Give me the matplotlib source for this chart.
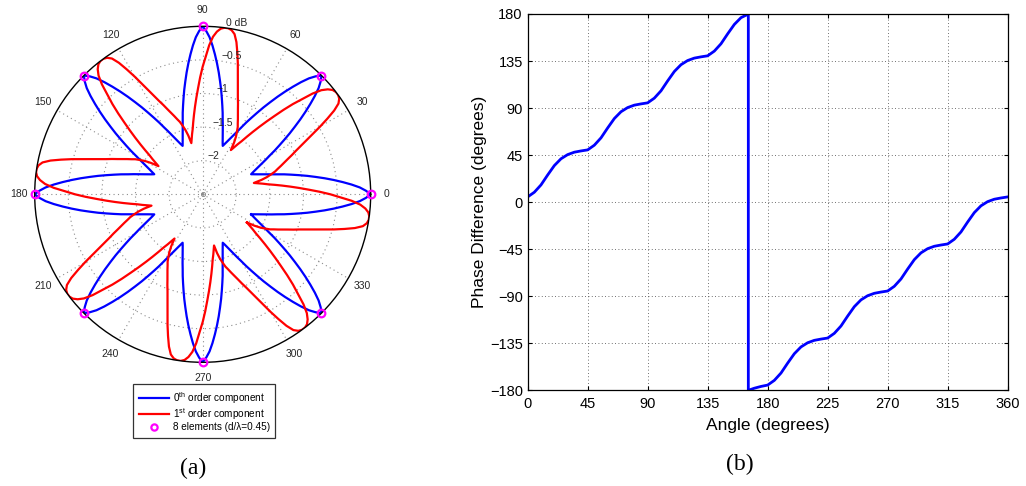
import numpy as np
import matplotlib
matplotlib.use('Agg')
import matplotlib.pyplot as plt
from matplotlib.lines import Line2D

plt.rcParams['font.family'] = ['Liberation Sans', 'DejaVu Sans']
plt.rcParams['mathtext.fontset'] = 'custom'
plt.rcParams['mathtext.rm'] = 'Liberation Sans'

# ---- (a) circular array patterns, dB relative to peak ----
# ring of 8 elements; one lobe per element,
# offsets in degrees relative to that element's direction
ELEMENT_DEG = [0, 45, 90, 135, 180, 225, 270, 315]
BLUE_OFFSET = [-22.5, -21.25, -20, -18.75, -17.5, -16.25, -15, -13.75, -12.5,
               -11.25, -10, -8.75, -7.5, -6.25, -5, -3.75, -2.5, -1.25, 0,
               1.25, 2.5, 3.75, 5, 6.25, 7.5, 8.75, 10, 11.25, 12.5, 13.75,
               15, 16.25, 17.5, 18.75, 20, 21.25, 22.5]
BLUE_DB = [-1.72, -1.68, -1.63, -1.57, -1.51, -1.43, -1.35, -1.25, -1.15,
           -1.04, -0.92, -0.80, -0.67, -0.54, -0.41, -0.28, -0.16, -0.07, 0.0,
           -0.07, -0.16, -0.28, -0.41, -0.54, -0.67, -0.80, -0.92, -1.04,
           -1.15, -1.25, -1.35, -1.43, -1.51, -1.57, -1.63, -1.68, -1.72]
RED_OFFSET = [-32.5, -31.25, -30, -28.75, -27.5, -26.25, -25, -23.75, -22.5,
              -21.25, -20, -18.75, -17.5, -16.25, -15, -13.75, -12.5, -11.25,
              -10, -8.75, -7.5, -6.25, -5, -3.75, -2.5, -1.25, 0, 1.25, 2.5,
              3.75, 5, 6.25, 7.5, 8.75, 10, 11.25, 12.5]
RED_DB = [-1.72, -1.60, -1.51, -1.44, -1.37, -1.32, -1.26, -1.20, -1.13,
          -1.05, -0.97, -0.87, -0.76, -0.63, -0.48, -0.33, -0.18, -0.07,
          -0.02, 0.0, 0.0, -0.02, -0.07, -0.15, -0.28, -0.45, -0.60, -0.76,
          -0.92, -1.06, -1.19, -1.31, -1.42, -1.52, -1.59, -1.66, -1.72]
RING_DB = [-2, -1.5, -1, -0.5]
RING_LABELS = ['\u22122', '\u22121.5', '\u22121', '\u22120.5', '0 dB']
THETA_TICKS = [0, 30, 60, 90, 120, 150, 180, 210, 240, 270, 300, 330]
LEGEND_LABELS = ['0$^{\\rm th}$ order component',
                 '1$^{\\rm st}$ order component',
                 '8 elements (d/\u03bb=0.45)']

# ---- (b) phase difference between the two components ----
PHASE_ANGLE = [0, 5, 10, 15, 20, 25, 30, 35, 40, 45, 50, 55, 60, 65, 70, 75,
               80, 85, 90, 95, 100, 105, 110, 115, 120, 125, 130, 135, 140,
               145, 150, 155, 160, 165, 165.5,
               165.5, 170, 175, 180, 185, 190, 195, 200, 205, 210, 215, 220,
               225, 230, 235, 240, 245, 250, 255, 260, 265, 270, 275, 280,
               285, 290, 295, 300, 305, 310, 315, 320, 325, 330, 335, 340,
               345, 350, 355, 360]
PHASE_DEG = [5, 9.5, 16.5, 26, 35, 41.5, 45.5, 47.8, 49, 50, 54.5, 61.5, 71,
             80, 86.5, 90.5, 92.8, 94, 95, 99.5, 106.5, 116, 125, 131.5, 135.5,
             137.8, 139, 140, 144.5, 151.5, 161, 170, 176.5, 179.6, 180,
             -180, -178, -176.3, -175, -170.5, -163.5, -154, -145, -138.5,
             -134.5, -132.2, -131, -130, -125.5, -118.5, -109, -100, -93.5,
             -89.5, -87.2, -86, -85, -80.5, -73.5, -64, -55, -48.5, -44.5,
             -42.2, -41, -40, -35.5, -28.5, -19, -10, -3.5, 0.5, 2.8, 4, 5]
X_TICKS = [0, 45, 90, 135, 180, 225, 270, 315, 360]
Y_TICKS = [-180, -135, -90, -45, 0, 45, 90, 135, 180]


def ring_curve(offsets, db):
    th, r = [], []
    for e in ELEMENT_DEG:
        th += [e + o for o in offsets[:-1]]
        r += db[:-1]
    th.append(th[0] + 360)
    r.append(r[0])
    return np.radians(th), np.array(r)


fig = plt.figure(figsize=(10.26, 4.86), dpi=100)
fig.patch.set_facecolor('white')

# ---------------- (a) ----------------
ax = fig.add_axes([0.0338, 0.2545, 0.3275, 0.6914], projection='polar')
ax.set_ylim(-2.5, 0)
ax.set_yticks(RING_DB)
ax.set_yticklabels([])
ax.set_xticks(np.radians(THETA_TICKS))
ax.set_xticklabels([])
ax.grid(True, color='0.55', linestyle=(0, (1, 3)), linewidth=0.8)
ax.spines['polar'].set_color('black')
ax.spines['polar'].set_linewidth(1.0)

th, r = ring_curve(BLUE_OFFSET, BLUE_DB)
l0, = ax.plot(th, r, color='#0000ff', lw=1.6)
th, r = ring_curve(RED_OFFSET, RED_DB)
l1, = ax.plot(th, r, color='#ff0000', lw=1.6)
ax.plot(np.radians(ELEMENT_DEG), [0] * len(ELEMENT_DEG), ls='none',
        marker='o', ms=5.5, mfc='none', mec='#ff00ff', mew=1.6,
        clip_on=False, zorder=5)
ax.plot([0], [-2.5], 'o', ms=3, mfc='none', mec='0.5', mew=0.6)

for a in THETA_TICKS:
    ax.text(np.radians(a), 0.24, str(a), ha='center', va='center',
            fontsize=7.5, color='0.15')
for v, lab in zip(RING_DB + [0], RING_LABELS):
    ax.text(np.radians(82), v, lab, ha='left', va='bottom', fontsize=7.5,
            color='0.15')

leg_marker = Line2D([], [], ls='none', marker='o', ms=4.5, mfc='none',
                    mec='#ff00ff', mew=1.6)
leg = fig.legend([l0, l1, leg_marker], LEGEND_LABELS, loc='upper left',
                 bbox_to_anchor=(133.3 / 1026, 1 - 384.3 / 486),
                 fontsize=7.2, frameon=True, fancybox=False, edgecolor='black',
                 borderaxespad=0, handlelength=3.0, handletextpad=0.4,
                 labelspacing=0.05, borderpad=0.55)
leg.get_frame().set_linewidth(0.9)

fig.text(193 / 1026, 1 - 468 / 486, '(a)', ha='center', va='center',
         family='Liberation Serif', fontsize=17)

# ---------------- (b) ----------------
bx = fig.add_axes([0.5143, 0.1969, 0.4678, 0.7743])
bx.plot(PHASE_ANGLE, PHASE_DEG, color='#0000ff', lw=2.0)
bx.set_xlim(0, 360)
bx.set_ylim(-180, 180)
bx.set_xticks(X_TICKS)
bx.set_yticks(Y_TICKS)
bx.grid(True, color='0.25', linestyle=(0, (1, 3)), linewidth=0.6)
bx.tick_params(direction='in', top=True, right=True, length=3,
               labelsize=10.5, width=0.8)
bx.tick_params(axis='x', pad=5)
for s in bx.spines.values():
    s.set_linewidth(0.9)
bx.set_xlabel('Angle (degrees)', fontsize=12.5, labelpad=5)
bx.set_ylabel('Phase Difference (degrees)', fontsize=12.5, labelpad=2)

fig.text(740 / 1026, 1 - 464 / 486, '(b)', ha='center', va='center',
         family='Liberation Serif', fontsize=17)

fig.savefig('out.png', dpi=100, facecolor='white')
